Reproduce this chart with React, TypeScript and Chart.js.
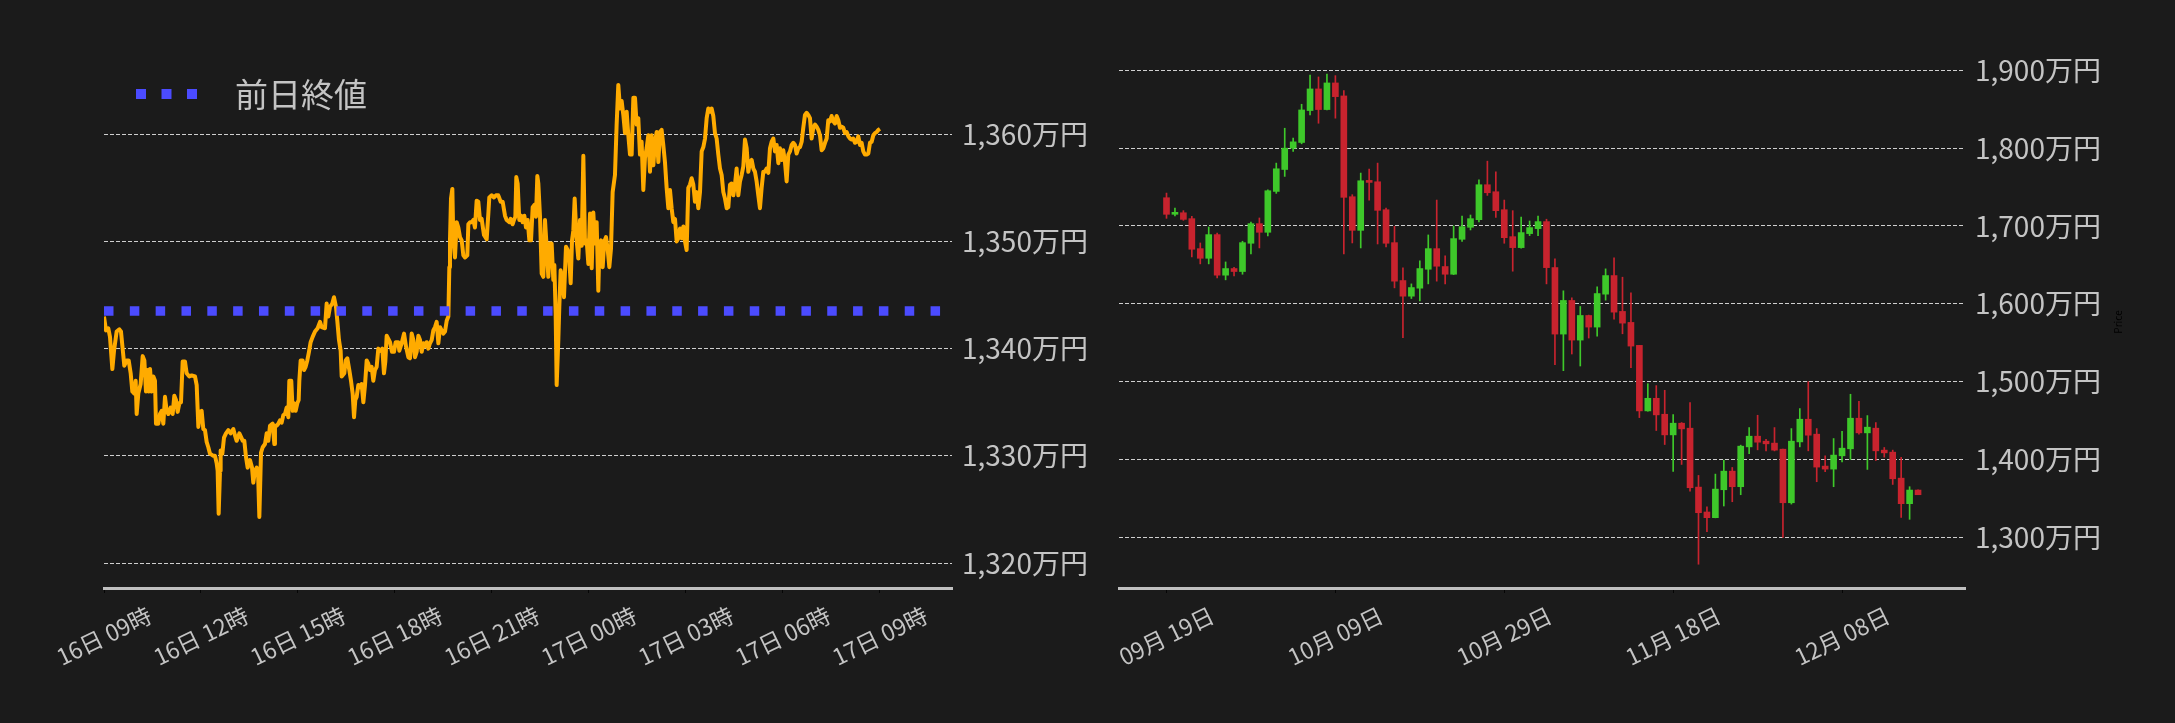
import React, { useEffect, useRef } from "react";
import { Chart, registerables } from "chart.js";

Chart.register(...registerables);

const FONT = '"Noto Sans CJK JP", "Noto Sans", sans-serif';
const BG = "#1b1b1b";
const TEXT = "#c4c4c4";
const GRID = "#cfcfcf";
const ORANGE = "#ffab00";
const BLUE = "#4b4bff";
const UP = "#3ec82a";
const DOWN = "#c8232e";

// ---------------- intraday (minutes since 16日 09:00, price in 万円) ----------------
const intradayMinutes = [
  0, 3.7, 8.0, 11.1, 15.5, 18.6, 23.5, 28.5, 31.5, 34.6,
  37.7, 42.1, 45.8, 49.5, 52.6, 56.3, 58.8, 60.6, 63.7, 68.0,
  71.8, 74.9, 77.9, 80.4, 83.5, 85.4, 88.5, 91.6, 94.6, 96.5,
  100.8, 103.9, 107.0, 110.1, 113.2, 116.3, 119.4, 123.7, 127.4, 130.5,
  133.6, 136.7, 139.8, 142.9, 146.0, 150.3, 153.4, 158.4, 162.7, 168.9,
  172.0, 175.1, 178.2, 181.2, 184.3, 187.4, 190.5, 193.6, 196.7, 202.9,
  206.0, 209.1, 210.9, 212.8, 215.3, 216.5, 219.6, 222.7, 226.4, 230.7,
  235.1, 240.0, 243.1, 246.2, 251.2, 254.9, 257.3, 260.4, 263.5, 266.6,
  270.9, 274.7, 277.1, 280.2, 283.3, 285.8, 288.3, 291.4, 294.5, 298.8,
  301.9, 305.0, 308.1, 313.0, 316.1, 317.3, 320.4, 323.5, 326.6, 329.7,
  332.8, 335.9, 339.0, 342.1, 343.9, 347.6, 350.1, 352.6, 355.7, 358.8,
  361.3, 362.5, 365.0, 368.7, 371.2, 374.2, 377.3, 380.4, 383.5, 387.2,
  391.6, 396.5, 400.9, 403.9, 410.1, 413.2, 416.3, 419.4, 423.7, 426.8,
  430.5, 433.0, 436.1, 439.2, 441.1, 446.0, 448.5, 451.6, 455.3, 458.4,
  461.5, 464.0, 466.4, 468.9, 472.0, 475.1, 478.2, 481.3, 484.4, 487.5,
  490.5, 493.6, 496.7, 499.8, 502.9, 506.0, 509.1, 513.4, 516.5, 519.6,
  522.1, 524.6, 527.7, 530.8, 534.5, 538.2, 541.3, 546.2,
  548.1, 552.5, 556.8, 560.5, 564.8, 567.9, 571.0, 574.1, 577.2, 580.3,
  583.4, 586.5, 589.6, 592.7, 595.8, 598.8, 601.9, 605.0, 608.1, 611.2,
  614.3, 617.4, 620.5, 623.6, 626.7, 629.8, 632.9, 636.0, 639.1, 640.9,
  642.1, 644.0, 646.5, 648.3, 651.4, 654.5, 657.6, 660.7, 663.8, 666.9,
  670.0, 674.3, 676.2, 679.3, 682.4, 685.5, 688.5, 691.6, 694.7, 697.8,
  700.9, 705.2, 710.2, 713.3, 715.1, 719.5, 723.8, 727.5, 731.8, 736.2,
  739.9, 744.2, 747.3, 752.3, 754.7, 758.4, 760.9, 763.4, 765.2, 767.7,
  770.8, 773.9, 777.0, 780.1, 783.2, 786.3, 789.4, 792.5, 795.6, 798.7,
  801.7, 804.2, 806.1, 809.2, 812.3, 815.4, 818.4, 821.5, 824.6, 827.7,
  830.8, 833.9, 835.8, 838.2, 840.1, 843.2, 845.0, 847.5, 851.2, 853.7,
  857.4, 860.5, 863.6, 866.1, 868.6, 871.0, 873.5, 877.2, 880.3, 883.4,
  886.5, 889.6, 892.7, 895.8, 898.9, 902.0, 905.1, 908.1, 911.2, 914.3,
  917.4, 919.3,
  922.4, 925.5, 928.5, 931.6, 934.7, 937.8, 940.9, 944.0, 948.3, 951.4,
  954.5, 957.6, 960.7, 963.8, 966.9, 970.0, 973.1, 976.2, 979.3, 982.4,
  985.5, 988.5, 991.6, 994.7, 997.8, 1000.9, 1004.0, 1007.1, 1010.2, 1013.3,
  1016.4, 1019.5, 1022.6, 1025.7, 1028.8, 1031.8, 1034.9, 1038.0, 1041.1, 1044.2,
  1047.3, 1050.4, 1053.5, 1056.6, 1059.7, 1062.8, 1065.9, 1069.0, 1072.1, 1075.2,
  1078.2, 1081.3, 1084.4, 1087.5, 1090.6, 1093.7, 1096.8, 1099.9, 1103.0, 1106.1,
  1109.2, 1112.3, 1115.4, 1118.5, 1121.5, 1124.6, 1127.7, 1130.8, 1133.9, 1137.0,
  1140.1, 1143.2, 1146.3, 1149.4, 1152.5, 1155.6, 1158.7, 1161.8, 1164.8, 1167.9,
  1171.0, 1174.1, 1177.2, 1180.3, 1183.4, 1186.5, 1189.6, 1192.7, 1195.8, 1198.9,
  1202.0, 1205.1, 1208.1, 1211.2, 1214.3, 1217.4, 1220.5, 1223.6, 1226.7, 1229.8,
  1232.9, 1236.0, 1239.1, 1242.2, 1245.3, 1248.4, 1251.5, 1254.5, 1257.6, 1260.7,
  1263.8, 1266.9, 1270.0, 1273.1, 1276.2, 1279.3, 1282.4, 1285.5, 1288.6, 1291.7,
  1294.8, 1297.8, 1300.9, 1304.0, 1307.1, 1310.2, 1313.3, 1316.4, 1319.5, 1322.6,
  1325.7, 1328.8, 1331.9, 1335.0, 1338.1, 1341.2, 1344.2, 1347.3, 1350.4, 1353.5,
  1356.6, 1359.7, 1362.8, 1365.9, 1369.0, 1372.1, 1375.2, 1378.3, 1381.4, 1384.5,
  1387.5, 1390.6, 1393.7, 1396.8, 1399.9, 1403.0, 1406.1, 1409.2, 1412.3, 1415.4,
  1418.5, 1421.6, 1424.7, 1427.8, 1430.8, 1433.9, 1437.0, 1440.1,
];

const intradayPrices = [
  1343.0, 1341.7, 1341.9, 1341.1, 1338.1, 1339.8, 1341.6, 1341.8, 1341.6, 1340.0,
  1338.4, 1338.9, 1338.9, 1337.7, 1336.0, 1335.8, 1337.0, 1333.9, 1335.8, 1336.7,
  1339.3, 1338.9, 1336.0, 1338.0, 1336.0, 1338.1, 1336.0, 1337.4, 1337.0, 1333.0,
  1333.0, 1333.9, 1334.2, 1333.0, 1335.5, 1334.2, 1333.9, 1334.5, 1333.9, 1335.6,
  1335.2, 1334.1, 1334.9, 1335.0, 1338.8, 1338.8, 1337.7, 1337.4, 1337.5, 1337.4,
  1336.6, 1332.7, 1334.1, 1334.2, 1332.5, 1332.4, 1331.3, 1330.8, 1330.2, 1330.0,
  1330.0, 1329.3, 1328.6, 1324.6, 1328.6, 1330.5, 1330.2, 1331.7, 1332.1, 1332.4,
  1332.1, 1332.5, 1331.9, 1331.4, 1332.1, 1331.7, 1331.4, 1331.4, 1329.9, 1328.9,
  1329.6, 1328.9, 1327.5, 1328.6, 1328.9, 1328.6, 1324.3, 1330.3, 1330.8, 1331.1,
  1332.1, 1331.4, 1332.8, 1333.0, 1331.1, 1332.8, 1332.8, 1333.0, 1333.3, 1333.1,
  1333.8, 1333.9, 1334.5, 1333.6, 1337.0, 1337.0, 1334.2, 1334.9, 1334.2, 1334.9,
  1335.2, 1337.0, 1338.9, 1338.9, 1338.0, 1338.3, 1338.9, 1339.7, 1340.6, 1341.1,
  1341.6, 1341.9, 1342.5, 1342.0, 1341.9, 1344.2, 1343.0, 1343.9, 1344.2, 1344.8,
  1343.9, 1342.6, 1340.8, 1339.8, 1337.4, 1337.7, 1338.9, 1339.1, 1338.0, 1337.0,
  1335.8, 1333.6, 1335.2, 1335.5, 1336.6, 1336.4, 1336.7, 1335.0, 1336.6, 1338.9,
  1338.6, 1338.0, 1338.3, 1337.0, 1338.0, 1338.3, 1340.0, 1339.8, 1340.0, 1337.7,
  1338.8, 1341.2, 1340.9, 1340.6, 1339.7, 1339.7, 1340.6, 1340.6,
  1339.8, 1340.5, 1341.4, 1340.2, 1339.2, 1339.1, 1341.4, 1340.8, 1339.2, 1339.7,
  1341.2, 1340.8, 1339.7, 1340.5, 1340.2, 1340.6, 1340.0, 1340.5, 1340.8, 1341.7,
  1342.0, 1342.5, 1340.5, 1342.0, 1341.7, 1341.4, 1341.6, 1342.6, 1343.0, 1347.6,
  1350.1, 1354.0, 1354.9, 1350.1, 1348.5, 1351.8, 1351.3, 1350.4, 1350.1, 1348.7,
  1348.5, 1348.7, 1351.6, 1351.8, 1351.8, 1352.0, 1351.3, 1353.8, 1353.7, 1352.0,
  1352.1, 1350.6, 1350.2, 1352.6, 1354.1, 1354.3, 1354.1, 1354.3, 1354.3, 1353.7,
  1353.7, 1352.4, 1352.0, 1351.8, 1352.1, 1351.6, 1352.0, 1352.3, 1356.0, 1355.4,
  1352.0, 1352.4, 1351.8, 1352.4, 1351.3, 1352.0, 1350.1, 1350.1, 1353.2, 1353.4,
  1352.3, 1356.1, 1355.4, 1352.3, 1347.0, 1346.7, 1352.0, 1349.5, 1346.7, 1349.8,
  1349.8, 1346.4, 1347.8, 1343.3, 1336.6, 1340.8, 1343.9, 1347.3, 1346.4, 1344.8,
  1349.5, 1349.2, 1348.2, 1346.1, 1350.1, 1351.0, 1354.0, 1350.1, 1348.4, 1352.0,
  1349.6, 1358.0, 1349.8, 1350.1, 1347.9, 1352.6, 1347.5, 1352.7, 1349.8, 1351.8,
  1345.4, 1349.2,
  1350.1, 1347.6, 1350.0, 1350.4, 1349.3, 1347.6, 1349.3, 1354.6, 1356.2, 1360.9,
  1364.6, 1362.4, 1363.1, 1361.8, 1360.1, 1362.1, 1359.9, 1358.1, 1358.1, 1363.4,
  1363.4, 1360.9, 1361.5, 1358.1, 1359.3, 1354.8, 1357.8, 1358.7, 1359.9, 1356.5,
  1359.9, 1357.1, 1359.3, 1360.2, 1357.4, 1360.2, 1360.4, 1359.0, 1357.4, 1355.0,
  1353.1, 1354.8, 1353.1, 1351.8, 1352.1, 1350.0, 1350.3, 1351.2, 1350.3, 1351.4,
  1350.0, 1349.2, 1355.0, 1355.3, 1355.9, 1355.3, 1353.7, 1354.6, 1353.1, 1354.6,
  1358.4, 1358.8, 1359.6, 1361.5, 1362.4, 1362.1, 1362.4, 1361.7, 1360.1, 1359.6,
  1358.1, 1356.8, 1356.2, 1354.6, 1354.0, 1353.1, 1353.2, 1355.3, 1355.4, 1354.3,
  1355.3, 1356.8, 1354.3, 1355.6, 1356.2, 1357.0, 1359.5, 1358.7, 1356.5, 1357.4,
  1357.6, 1356.8, 1356.5, 1355.6, 1354.3, 1353.1, 1355.0, 1356.5, 1356.5, 1356.8,
  1356.4, 1358.7, 1359.3, 1359.6, 1358.4, 1359.0, 1357.3, 1358.7, 1357.6, 1358.5,
  1357.4, 1355.6, 1358.1, 1358.4, 1359.0, 1359.2, 1359.0, 1358.2, 1358.7, 1358.8,
  1359.3, 1360.6, 1361.8, 1362.0, 1361.8, 1361.5, 1359.6, 1360.6, 1360.9, 1360.7,
  1360.4, 1359.9, 1358.5, 1358.7, 1359.2, 1359.6, 1361.3, 1361.2, 1361.7, 1361.2,
  1361.0, 1361.7, 1361.3, 1360.6, 1360.7, 1360.6, 1360.1, 1360.2, 1359.8, 1359.6,
  1359.5, 1359.6, 1359.2, 1359.3, 1359.8, 1359.0, 1359.2, 1358.4, 1358.1, 1358.1,
  1358.2, 1359.2, 1359.3, 1359.9, 1360.1, 1360.2, 1360.4, 1360.5,
];

const prevClose = 1343.5;
const prevCloseLabel = "前日終値";
const intradayTickMinutes = [0, 180, 360, 540, 720, 900, 1080, 1260, 1440];
const intradayTickLabels = [
  "16日 09時", "16日 12時", "16日 15時", "16日 18時", "16日 21時",
  "17日 00時", "17日 03時", "17日 06時", "17日 09時",
];
const intradayPriceTicks = [1320, 1330, 1340, 1350, 1360];

// ---------------- daily candles (09/19 .. 12/17), 万円 ----------------
const dailyOpen = [
  1736.3, 1715.0, 1717.0, 1709.4, 1670.9, 1658.5, 1688.9, 1636.8, 1645.3, 1641.5,
  1677.8, 1703.0, 1691.9, 1744.4, 1772.6, 1800.0, 1807.3, 1848.3, 1876.1, 1849.6,
  1883.8, 1867.1, 1737.6, 1694.4, 1758.1, 1756.8, 1720.9, 1678.6, 1629.9, 1609.8,
  1620.1, 1644.4, 1670.9, 1647.9, 1638.0, 1682.9, 1698.3, 1708.1, 1753.0, 1744.0,
  1720.9, 1686.3, 1672.2, 1690.2, 1696.6, 1705.6, 1646.6, 1561.1, 1604.3, 1553.4,
  1585.0, 1570.1, 1612.4, 1636.3, 1590.2, 1576.1, 1546.6, 1462.4, 1478.6, 1458.1,
  1431.6, 1446.6, 1440.2, 1364.5, 1332.5, 1325.2, 1361.1, 1385.0, 1365.0, 1416.2,
  1429.9, 1423.5, 1421.0, 1413.2, 1344.4, 1422.6, 1451.7, 1432.5, 1391.5, 1387.6,
  1404.7, 1413.7, 1453.0, 1434.2, 1440.2, 1412.0, 1409.4, 1376.0, 1343.2, 1360.7,
];
const dailyHigh = [
  1742.3, 1723.0, 1719.7, 1712.4, 1678.2, 1698.7, 1691.0, 1653.8, 1647.0, 1680.4,
  1705.1, 1710.3, 1746.6, 1780.8, 1825.6, 1812.8, 1856.4, 1894.0, 1891.5, 1895.3,
  1893.2, 1873.9, 1740.2, 1768.0, 1773.1, 1780.8, 1723.0, 1699.6, 1646.2, 1625.6,
  1655.1, 1688.5, 1733.3, 1661.5, 1700.0, 1712.8, 1714.1, 1759.4, 1783.3, 1769.7,
  1733.3, 1719.7, 1711.5, 1706.4, 1712.8, 1708.7, 1657.7, 1616.7, 1607.7, 1596.6,
  1585.5, 1621.8, 1644.9, 1659.0, 1634.2, 1614.1, 1546.6, 1497.4, 1494.9, 1488.9,
  1457.7, 1447.4, 1473.1, 1379.5, 1339.3, 1381.2, 1399.1, 1389.7, 1418.4, 1441.0,
  1456.8, 1426.0, 1441.0, 1413.2, 1439.7, 1465.4, 1500.0, 1439.7, 1404.7, 1426.9,
  1436.3, 1483.8, 1474.8, 1456.4, 1447.4, 1415.4, 1412.0, 1402.6, 1365.0, 1361.0,
];
const dailyLow = [
  1709.8, 1713.0, 1707.3, 1660.3, 1651.3, 1651.3, 1633.3, 1630.8, 1635.9, 1638.0,
  1664.0, 1671.8, 1687.2, 1741.9, 1763.7, 1795.7, 1805.6, 1842.7, 1832.0, 1849.0,
  1838.5, 1664.1, 1678.2, 1671.8, 1733.3, 1676.9, 1673.1, 1620.5, 1556.4, 1606.8,
  1603.8, 1625.6, 1629.1, 1625.6, 1637.5, 1680.3, 1694.9, 1705.1, 1739.3, 1711.1,
  1677.8, 1641.9, 1671.5, 1687.6, 1687.6, 1625.6, 1521.8, 1514.1, 1535.5, 1520.1,
  1556.0, 1558.5, 1604.7, 1580.3, 1561.5, 1517.9, 1453.8, 1462.0, 1437.2, 1419.2,
  1384.6, 1393.6, 1359.4, 1265.4, 1307.3, 1325.0, 1340.2, 1345.7, 1354.7, 1407.3,
  1412.4, 1411.1, 1411.0, 1300.0, 1342.7, 1416.2, 1411.1, 1371.4, 1384.2, 1365.0,
  1397.0, 1400.0, 1432.5, 1387.2, 1398.7, 1403.0, 1367.9, 1325.6, 1323.1, 1354.7,
];
const dailyClose = [
  1715.0, 1717.0, 1708.5, 1670.1, 1658.5, 1688.9, 1636.8, 1645.3, 1641.5, 1678.6,
  1703.0, 1691.9, 1745.3, 1773.5, 1800.0, 1808.1, 1849.1, 1876.1, 1849.6, 1883.8,
  1866.2, 1736.8, 1694.4, 1758.1, 1756.0, 1720.1, 1677.8, 1629.1, 1609.8, 1620.9,
  1645.3, 1670.9, 1648.3, 1638.0, 1683.8, 1699.1, 1709.4, 1753.0, 1742.7, 1719.7,
  1685.0, 1672.2, 1691.5, 1697.9, 1705.6, 1646.5, 1561.1, 1604.3, 1553.4, 1585.0,
  1570.1, 1613.2, 1636.3, 1589.3, 1575.2, 1545.7, 1462.4, 1478.6, 1457.3, 1431.6,
  1446.6, 1439.3, 1363.7, 1331.6, 1325.2, 1361.9, 1385.0, 1365.0, 1417.1, 1429.9,
  1422.2, 1420.1, 1412.0, 1344.4, 1423.5, 1451.7, 1431.2, 1390.2, 1387.6, 1405.6,
  1414.5, 1453.0, 1434.2, 1441.5, 1411.1, 1408.5, 1375.2, 1343.2, 1360.7, 1354.7,
];
const dailyTickIndex = [0, 20, 40, 60, 80];
const dailyTickLabels = ["09月 19日", "10月 09日", "10月 29日", "11月 18日", "12月 08日"];
const dailyPriceTicks = [1300, 1400, 1500, 1600, 1700, 1800, 1900];
const dailyAxisTitle = "Price";

// ---------------- layout (pixels) ----------------
const H = 723;
const LEFT_W = 1100;
const RIGHT_W = 1075;
const PLOT_TOP = 40;
const X_AXIS_H = 135;

const fmtMan = (v: number) => Number(v).toLocaleString("en-US") + "万円";

function rotatedLabels(id: string, values: number[], labels: string[]) {
  return {
    id,
    afterDraw(chart: any) {
      const { ctx, chartArea } = chart;
      const sx = chart.scales.x;
      ctx.save();
      ctx.fillStyle = TEXT;
      ctx.font = `23px ${FONT}`;
      ctx.textAlign = "center";
      ctx.textBaseline = "middle";
      values.forEach((v, i) => {
        const x = sx.getPixelForValue(v);
        ctx.save();
        ctx.translate(x, chartArea.bottom + 48);
        ctx.rotate((-26 * Math.PI) / 180);
        ctx.fillText(labels[i], 0, 0);
        ctx.restore();
      });
      ctx.restore();
    },
  };
}

const legendPlugin = {
  id: "prevCloseLegend",
  afterDraw(chart: any) {
    const { ctx } = chart;
    ctx.save();
    ctx.fillStyle = BLUE;
    [136, 161.5, 187].forEach((x) => ctx.fillRect(x, 89, 10, 10));
    ctx.fillStyle = TEXT;
    ctx.font = `33px ${FONT}`;
    ctx.textAlign = "left";
    ctx.textBaseline = "middle";
    ctx.fillText(prevCloseLabel, 235, 94);
    ctx.restore();
  },
};

const priceTitlePlugin = {
  id: "priceTitle",
  afterDraw(chart: any) {
    const { ctx } = chart;
    ctx.save();
    ctx.fillStyle = "#000000";
    ctx.font = `10px ${FONT}`;
    ctx.textAlign = "center";
    ctx.textBaseline = "middle";
    ctx.translate(1018, 322);
    ctx.rotate(-Math.PI / 2);
    ctx.fillText(dailyAxisTitle, 0, 0);
    ctx.restore();
  },
};

function yScale(min: number, max: number, ticks: number[], width: number) {
  return {
    type: "linear",
    position: "right",
    min,
    max,
    afterBuildTicks: (s: any) => {
      s.ticks = ticks.map((v) => ({ value: v }));
    },
    afterFit: (s: any) => {
      s.width = width;
    },
    ticks: {
      color: TEXT,
      font: { family: FONT, size: 28 },
      padding: 10,
      callback: (v: any) => fmtMan(v),
    },
    grid: { color: GRID, lineWidth: 1, drawTicks: false },
    border: { display: false, dash: [4, 2] },
  };
}

function xScale(min: number, max: number, ticks: number[]) {
  return {
    type: "linear",
    min,
    max,
    offset: false,
    afterBuildTicks: (s: any) => {
      s.ticks = ticks.map((v) => ({ value: v }));
    },
    afterFit: (s: any) => {
      s.height = X_AXIS_H;
    },
    ticks: { display: false },
    grid: {
      offset: false,
      drawOnChartArea: false,
      drawTicks: true,
      tickLength: 5,
      color: "#050505",
      lineWidth: 1,
    },
    border: { display: true, color: "#c0c0c0", width: 3 },
  };
}

function makeIntradayConfig(): any {
  const leftMax = 1573.8;
  return {
    type: "line",
    data: {
      datasets: [
        {
          label: prevCloseLabel,
          data: [
            { x: 0, y: prevClose },
            { x: leftMax, y: prevClose },
          ],
          borderColor: BLUE,
          borderWidth: 9.5,
          borderDash: [9.5, 16.33],
          pointRadius: 0,
          order: 0,
        },
        {
          label: "price",
          data: intradayMinutes.map((m, i) => ({ x: m, y: intradayPrices[i] })),
          borderColor: ORANGE,
          borderWidth: 4,
          borderJoinStyle: "round",
          pointRadius: 0,
          tension: 0,
          order: 1,
        },
      ],
    },
    options: {
      animation: false,
      responsive: false,
      devicePixelRatio: 1,
      layout: { padding: { left: 104, top: PLOT_TOP, right: 0, bottom: 0 } },
      plugins: { legend: { display: false }, tooltip: { enabled: false } },
      scales: {
        x: xScale(0, leftMax, intradayTickMinutes),
        y: yScale(1317.67, 1368.79, intradayPriceTicks, LEFT_W - 952),
      },
    },
    plugins: [legendPlugin, rotatedLabels("rotIntraday", intradayTickMinutes, intradayTickLabels)],
  };
}

function makeDailyConfig(): any {
  const colors = dailyOpen.map((o, i) => (dailyClose[i] >= o ? UP : DOWN));
  return {
    type: "bar",
    data: {
      datasets: [
        {
          label: "wick",
          data: dailyLow.map((l, i) => ({ x: i, y: [l, dailyHigh[i]] })),
          backgroundColor: colors,
          borderWidth: 0,
          barThickness: 1,
          grouped: false,
          order: 1,
        },
        {
          label: "body",
          data: dailyOpen.map((o, i) => ({ x: i, y: [o, dailyClose[i]] })),
          backgroundColor: colors,
          borderWidth: 0,
          barThickness: 6,
          minBarLength: 2,
          grouped: false,
          order: 0,
        },
      ],
    },
    options: {
      animation: false,
      responsive: false,
      devicePixelRatio: 1,
      layout: { padding: { left: 19, top: PLOT_TOP, right: 0, bottom: 0 } },
      plugins: { legend: { display: false }, tooltip: { enabled: false } },
      scales: {
        x: xScale(-5.625, 94.56, dailyTickIndex),
        y: yScale(1234.85, 1938.97, dailyPriceTicks, RIGHT_W - 865),
      },
    },
    plugins: [priceTitlePlugin, rotatedLabels("rotDaily", dailyTickIndex, dailyTickLabels)],
  };
}

function ChartCanvas({ make, left, width }: { make: () => any; left: number; width: number }) {
  const ref = useRef<HTMLCanvasElement | null>(null);
  useEffect(() => {
    const chart = new Chart(ref.current as HTMLCanvasElement, make());
    return () => chart.destroy();
  }, []);
  return (
    <canvas
      ref={ref}
      width={width}
      height={H}
      style={{ position: "absolute", left, top: 0, width, height: H, display: "block" }}
    />
  );
}

export default function App() {
  return (
    <div
      style={{
        position: "fixed",
        left: 0,
        top: 0,
        width: 2175,
        height: H,
        background: BG,
        overflow: "hidden",
      }}
    >
      <ChartCanvas make={makeIntradayConfig} left={0} width={LEFT_W} />
      <ChartCanvas make={makeDailyConfig} left={LEFT_W} width={RIGHT_W} />
    </div>
  );
}
